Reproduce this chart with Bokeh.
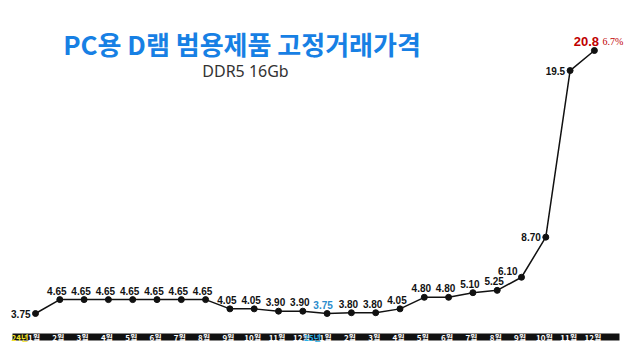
from bokeh.plotting import figure
from bokeh.models import ColumnDataSource, Range1d
from bokeh.core.properties import value
from bokeh.embed import file_html
from bokeh.resources import INLINE

# ---------------- data ----------------
title_text = "PC용 D램 범용제품 고정거래가격"
subtitle_text = "DDR5 16Gb"
months = ["1월", "2월", "3월", "4월", "5월", "6월", "7월", "8월", "9월", "10월", "11월", "12월"]
month_labels = months + months
year_labels = ["24년", "25년"]
year_start_idx = [0, 12]
prices = [3.75, 4.65, 4.65, 4.65, 4.65, 4.65, 4.65, 4.65, 4.05, 4.05, 3.90, 3.90,
          3.75, 3.80, 3.80, 4.05, 4.80, 4.80, 5.10, 5.25, 6.10, 8.70, 19.5, 20.8]
price_labels = ["3.75", "4.65", "4.65", "4.65", "4.65", "4.65", "4.65", "4.65", "4.05", "4.05", "3.90", "3.90",
                "3.75", "3.80", "3.80", "4.05", "4.80", "4.80", "5.10", "5.25", "6.10", "8.70", "19.5", "20.8"]
last_change = "6.7%"

# ---------------- layout helpers ----------------
W, H = 624, 344
X0_PX, DX_PX = 35.0, 24.3           # px of first point, px per month
Y_LO_PX, Y_HI_PX = 313.0, 50.0      # px (from top) of min / max price
vmin, vmax = min(prices), max(prices)
k = (Y_LO_PX - Y_HI_PX) / (vmax - vmin)
x_start = -X0_PX / DX_PX
x_end = x_start + W / DX_PX
y_end = vmin + Y_LO_PX / k
y_start = vmin - (H - Y_LO_PX) / k

def dx(px):
    return x_start + px / DX_PX

def dy(py):
    return y_end - py / k

p = figure(width=W, height=H, output_backend="svg", toolbar_location=None,
           x_range=Range1d(x_start, x_end), y_range=Range1d(y_start, y_end),
           x_axis_location=None, y_axis_location=None, min_border=0,
           background_fill_color="white", border_fill_color="white")
p.grid.visible = False
p.outline_line_color = None

xs = list(range(len(prices)))

# title / subtitle
p.text(x=[dx(241.5)], y=[dy(43)], text=[title_text], text_align="center", text_baseline="middle",
       text_font=value("Noto Sans CJK KR"), text_font_style="bold", text_font_size="26px",
       text_color="#1780e4")
p.text(x=[dx(245)], y=[dy(70)], text=[subtitle_text], text_align="center", text_baseline="middle",
       text_font=value("Noto Sans"), text_font_size="16px", text_color="#333333")

# bottom bar
p.quad(left=[dx(12)], right=[dx(619)], top=[dy(333)], bottom=[dy(340)],
       fill_color="#111111", line_color=None)
p.text(x=[i - 0.06 for i in xs], y=[dy(336.5)] * len(xs), text=month_labels,
       text_align="center", text_baseline="middle", text_font=value("Noto Sans CJK KR"),
       text_font_style="bold", text_font_size="8px", text_color="white")
year_colors = ["#f2e12a", "#2ab0e8"]
year_shift = [-0.64, -0.6]
for idx, lab, col, sh in zip(year_start_idx, year_labels, year_colors, year_shift):
    p.text(x=[idx + sh], y=[dy(336.5)], text=[lab], text_align="center", text_baseline="middle",
           text_font=value("Noto Sans CJK KR"), text_font_style="bold", text_font_size="8px",
           text_color=col)

# line + points
src = ColumnDataSource(dict(x=xs, y=prices, lab=price_labels))
p.line("x", "y", source=src, line_color="#111111", line_width=1.5)
p.scatter("x", "y", source=src, size=6, fill_color="#111111", line_color="#111111")

# value labels
special = {0, 12, 20, 21, 22, 23}
above = [i for i in xs if i not in special]
p.text(x=[xs[i] for i in above], y=[prices[i] for i in above], text=[price_labels[i] for i in above],
       text_align="center", text_baseline="bottom", x_offset=-3, y_offset=-5,
       text_font=value("Liberation Sans"), text_font_style="bold", text_font_size="10px",
       text_color="#111111")
left = [0, 21, 22]
p.text(x=[xs[i] for i in left], y=[prices[i] for i in left], text=[price_labels[i] for i in left],
       text_align="right", text_baseline="middle", x_offset=-5, y_offset=0,
       text_font=value("Liberation Sans"), text_font_style="bold", text_font_size="10px",
       text_color="#111111")
p.text(x=[xs[20]], y=[prices[20]], text=[price_labels[20]],
       text_align="right", text_baseline="bottom", x_offset=-4, y_offset=-2,
       text_font=value("Liberation Sans"), text_font_style="bold", text_font_size="10px",
       text_color="#111111")
p.text(x=[xs[12]], y=[prices[12]], text=[price_labels[12]],
       text_align="center", text_baseline="bottom", x_offset=-4, y_offset=-5,
       text_font=value("Liberation Sans"), text_font_style="bold", text_font_size="10px",
       text_color="#2b8ccc")
p.text(x=[xs[23]], y=[prices[23]], text=[price_labels[23]],
       text_align="center", text_baseline="bottom", x_offset=-8, y_offset=-5,
       text_font=value("Liberation Sans"), text_font_style="bold", text_font_size="13px",
       text_color="#c00000")
p.text(x=[xs[23]], y=[prices[23]], text=[last_change],
       text_align="left", text_baseline="bottom", x_offset=8, y_offset=-4,
       text_font=value("Liberation Serif"), text_font_size="10px",
       text_color="#c00000")

open("out.html", "w").write(file_html(p, INLINE))
